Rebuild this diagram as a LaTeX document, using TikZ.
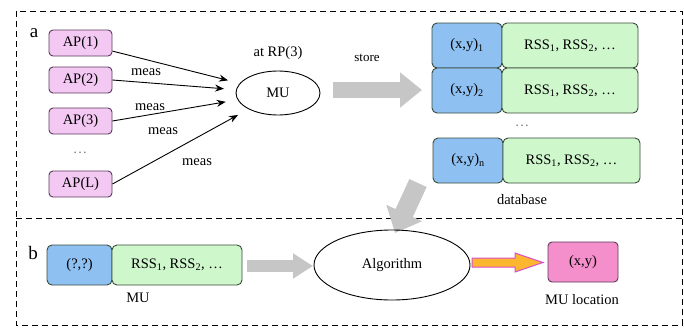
\documentclass[tikz,border=0pt]{standalone}
\usepackage{fontspec}
\setmainfont{Liberation Serif}
\usetikzlibrary{arrows.meta,shapes.geometric}
\definecolor{appink}{HTML}{F3C8F3}
\definecolor{apborder}{HTML}{5A3A5A}
\definecolor{cellblue}{HTML}{8EC1F2}
\definecolor{cellgreen}{HTML}{CFF7CC}
\definecolor{locpink}{HTML}{F58FCB}
\definecolor{fatgray}{HTML}{C6C6C6}
\definecolor{orangefill}{HTML}{FDB62F}
\definecolor{magentaedge}{HTML}{D94FC8}
\definecolor{edgedark}{HTML}{3A4A3A}
\newcommand{\fs}{\fontsize{14.5}{17}\selectfont}
\begin{document}
\begin{tikzpicture}[x=1pt,y=-1pt,
  every node/.style={font=\fs, inner sep=0pt},
  cell/.style={draw=edgedark, line width=0.9pt, rounded corners=5pt, minimum height=45pt},
  apbox/.style={draw=apborder, fill=appink, line width=0.9pt, rounded corners=4pt, minimum width=63pt, minimum height=26pt},
  bluecell/.style={cell, fill=cellblue, minimum width=70pt},
  greencell/.style={cell, fill=cellgreen, minimum width=136pt},
  oval/.style={draw=black, line width=0.9pt, ellipse},
  measarrow/.style={draw=black, line width=0.9pt, -{Stealth[length=9pt,width=7pt]}, shorten >=12pt},
  fat/.style={draw=fatgray, line width=16pt, -{Triangle[length=22pt,width=34pt]}},
  frame/.style={draw=black, line width=0.8pt, dash pattern=on 6pt off 4pt},
  dotslbl/.style={text=gray}]
\useasboundingbox (0,0) rectangle (684,327);
% frame
\draw[frame] (16,11) rectangle (682,325);
\draw[frame] (16,218) -- (682,218);
% panel a
\node[font=\fontsize{19}{21}\selectfont] (la) at (34,33) {a};
\node[apbox] (ap1) at (80.5,43) {AP(1)};
\node[apbox] (ap2) at (80.5,80) {AP(2)};
\node[apbox] (ap3) at (80.5,121) {AP(3)};
\node[dotslbl] (apd) at (80,153) {\dots};
\node[apbox] (apL) at (80.5,184) {AP(L)};
\node[oval, minimum width=84pt, minimum height=44pt] (mu) at (278,93) {MU};
\node (rp) at (278,53) {at RP(3)};
\draw[measarrow] (ap1) -- (mu);
\draw[measarrow] (ap2.east) -- (mu);
\draw[measarrow] (ap3.east) -- (mu);
\draw[measarrow] (apL.east) -- (mu);
\node (m1) at (146,72) {meas};
\node (m2) at (150,107) {meas};
\node (m3) at (163,131) {meas};
\node (m4) at (197,162) {meas};
% store
\node[font=\fontsize{13}{15}\selectfont] (store) at (367,58) {store};
\coordinate (s1) at (333,90);
\coordinate (s2) at (422,90);
\draw[fat] (s1) -- (s2);
% database
\node[bluecell] (b1) at (467,45.5) {(x,y)\textsubscript{1}};
\node[greencell] (g1) at (570,45.5) {RSS\textsubscript{1}, RSS\textsubscript{2}, \dots};
\node[bluecell] (b2) at (467,90.5) {(x,y)\textsubscript{2}};
\node[greencell] (g2) at (570,90.5) {RSS\textsubscript{1}, RSS\textsubscript{2}, \dots};
\node[dotslbl] (dbd) at (522,126) {\dots};
\node[bluecell] (bn) at (468,160.5) {(x,y)\textsubscript{n}};
\node[greencell, minimum width=137pt] (gn) at (571.5,160.5) {RSS\textsubscript{1}, RSS\textsubscript{2}, \dots};
\node (db) at (522,200) {database};
% diagonal arrow
\coordinate (d1) at (418,183);
\coordinate (d2) at (395,233);
\draw[fat, line width=19pt, -{Triangle[length=22pt,width=38pt]}] (d1) -- (d2);
% panel b
\node[font=\fontsize{19}{21}\selectfont] (lb) at (33,253) {b};
\node[cell, fill=cellblue, minimum width=65pt, minimum height=40pt] (qb) at (79.5,265) {(?,?)};
\node[cell, fill=cellgreen, minimum width=130pt, minimum height=40pt] (qg) at (177,265) {RSS\textsubscript{1}, RSS\textsubscript{2}, \dots};
\node (mulbl) at (138,298) {MU};
\node[oval, minimum width=156pt, minimum height=70pt] (alg) at (392,265) {Algorithm};
\coordinate (t1) at (247,266);
\coordinate (t2) at (313,266);
\draw[fat, line width=12pt, -{Triangle[length=20pt,width=24pt]}] (t1) -- (t2);
\node[draw=apborder, fill=locpink, line width=0.9pt, rounded corners=4pt, minimum width=70pt, minimum height=40pt] (loc) at (583,262) {(x,y)};
\node (loclbl) at (582,300) {MU location};
\draw[draw=magentaedge, fill=orangefill, line width=1pt, line join=miter]
  (472,258) -- (515,258) -- (515,253) -- (543,262.5) -- (515,272) -- (515,267) -- (472,267) -- cycle;
\end{tikzpicture}
\end{document}
